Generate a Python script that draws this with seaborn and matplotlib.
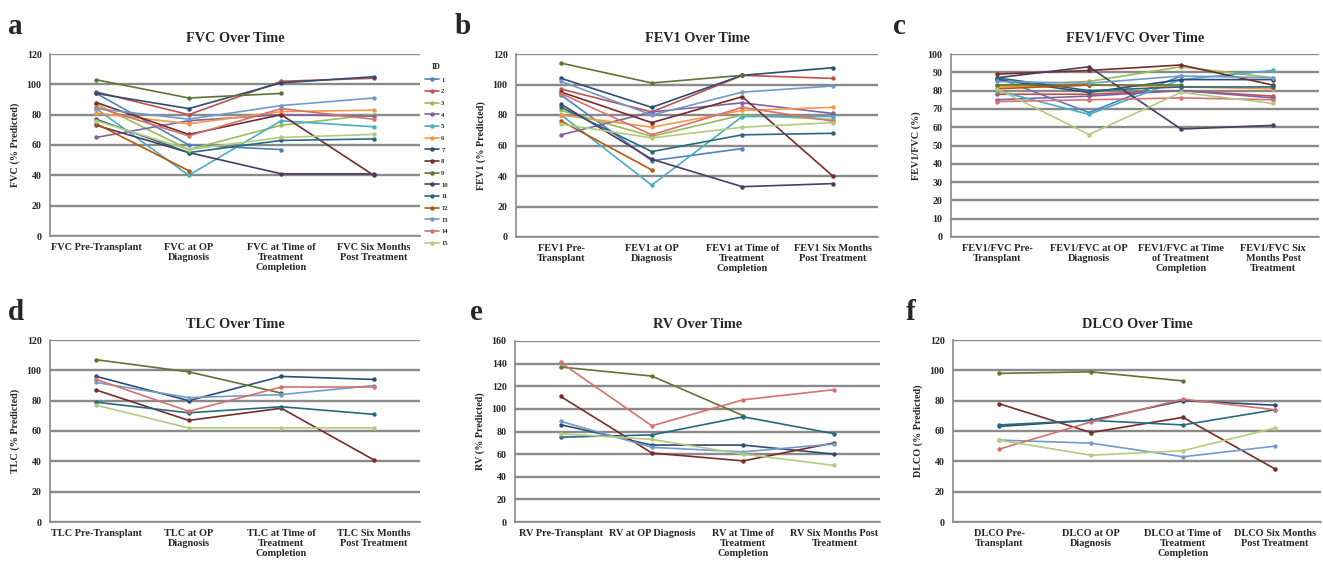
import numpy as np
import pandas as pd
import matplotlib.pyplot as plt
import seaborn as sns

sns.set_style("white")
plt.rcParams["font.family"] = ["Liberation Serif", "DejaVu Serif"]
plt.rcParams["font.weight"] = "bold"

# ---------------- data ----------------
ids = [str(i) for i in range(1, 16)]
colors = ["#4F81BD", "#C0504D", "#9BBB59", "#8064A2", "#4BACC6",
          "#F79646", "#2C4D75", "#772C2A", "#5F7530", "#4D3B62",
          "#276A7C", "#B65708", "#729ACA", "#D4726F", "#B3CB7F"]
nan = np.nan

# one row per patient ID 1..15, four time points
fvc = [[94, 60, 57, nan], [95, 80, 102, 104], [87, 57, 73, 80],
       [65, 76, 80, 79], [84, 40, 76, 72], [81, 74, 82, 83],
       [94, 84, 101, 105], [88, 67, 80, 40], [103, 91, 94, nan],
       [73, 55, 41, 41], [77, 55, 63, 64], [74, 43, nan, nan],
       [84, 77, 86, 91], [85, 66, 84, 77], [76, 57, 65, 67]]
fev1 = [[93, 50, 58, nan], [97, 82, 106, 104], [83, 66, 80, 77],
        [67, 82, 88, 81], [80, 34, 79, 79], [80, 72, 83, 85],
        [104, 85, 106, 111], [95, 75, 92, 40], [114, 101, 106, nan],
        [87, 51, 33, 35], [85, 56, 67, 68], [76, 44, nan, nan],
        [102, 80, 95, 99], [94, 67, 85, 76], [74, 65, 72, 75]]
ratio = [[87, 68, 88, nan], [78, 78, 80, 77], [83, 85, 93, 87],
         [75, 77, 80, 76], [80, 67, 86, 91], [82, 83, 82, 81],
         [86, 79, 86, 86], [89, 91, 94, 83], [83, 83, 83, nan],
         [87, 93, 59, 61], [87, 80, 82, 82], [81, 83, nan, nan],
         [85, 84, 88, 87], [74, 75, 76, 75], [81, 56, 79, 73]]

sub_ids = ["7", "8", "9", "11", "13", "14", "15"]
tlc = [[96, 80, 96, 94], [87, 67, 75, 41], [107, 99, 85, nan],
       [79, 72, 76, 71], [92, 82, 84, 90], [94, 73, 89, 89],
       [77, 62, 62, 62]]
rv = [[86, 68, 68, 60], [111, 61, 54, 70], [137, 129, 94, nan],
      [75, 77, 93, 78], [89, 66, 62, 69], [141, 85, 108, 117],
      [78, 73, 60, 50]]
dlco = [[63, 67, 80, 77], [78, 59, 69, 35], [98, 99, 93, nan],
        [64, 67, 64, 74], [54, 52, 43, 50], [48, 66, 81, 74],
        [54, 44, 47, 62]]

panels = [
    ("a", "FVC Over Time", "FVC (% Predicted)", ids, fvc, 120, 20,
     ["FVC Pre-Transplant", "FVC at OP\nDiagnosis",
      "FVC at Time of\nTreatment\nCompletion", "FVC Six Months\nPost Treatment"]),
    ("b", "FEV1 Over Time", "FEV1 (% Predicted)", ids, fev1, 120, 20,
     ["FEV1 Pre-\nTransplant", "FEV1 at OP\nDiagnosis",
      "FEV1 at Time of\nTreatment\nCompletion", "FEV1 Six Months\nPost Treatment"]),
    ("c", "FEV1/FVC Over Time", "FEV1/FVC (%)", ids, ratio, 100, 10,
     ["FEV1/FVC Pre-\nTransplant", "FEV1/FVC at OP\nDiagnosis",
      "FEV1/FVC at Time\nof Treatment\nCompletion", "FEV1/FVC Six\nMonths Post\nTreatment"]),
    ("d", "TLC Over Time", "TLC (% Predicted)", sub_ids, tlc, 120, 20,
     ["TLC Pre-Transplant", "TLC at OP\nDiagnosis",
      "TLC at Time of\nTreatment\nCompletion", "TLC Six Months\nPost Treatment"]),
    ("e", "RV Over Time", "RV (% Predicted)", sub_ids, rv, 160, 20,
     ["RV Pre-Transplant", "RV at OP Diagnosis",
      "RV at Time of\nTreatment\nCompletion", "RV Six Months Post\nTreatment"]),
    ("f", "DLCO Over Time", "DLCO (% Predicted)", sub_ids, dlco, 120, 20,
     ["DLCO Pre-\nTransplant", "DLCO at OP\nDiagnosis",
      "DLCO at Time of\nTreatment\nCompletion", "DLCO Six Months\nPost Treatment"]),
]

W, H = 1323, 562
# axes boxes in pixels: left, top, right, bottom
boxes = [(50, 54, 420, 236), (516, 54, 878, 237), (951, 54, 1319, 237),
         (50, 340, 420, 522), (515, 341, 880, 522), (953, 340, 1321, 522)]
letter_pos = [(8, 26), (455, 26), (893, 26), (8, 312), (470, 312), (906, 312)]

palette = dict(zip(ids, colors))

fig = plt.figure(figsize=(W / 100, H / 100), dpi=100)

for k, (letter, title, ylab, pid, vals, ymax, ystep, xlabels) in enumerate(panels):
    l, t, r, b = boxes[k]
    ax = fig.add_axes([l / W, 1 - b / H, (r - l) / W, (b - t) / H])

    rows = []
    for i, p in enumerate(pid):
        for j, v in enumerate(vals[i]):
            rows.append({"ID": p, "t": j, "val": v})
    df = pd.DataFrame(rows).dropna()

    sns.lineplot(data=df, x="t", y="val", hue="ID", hue_order=pid,
                 palette=palette, marker="o", markersize=3.2,
                 markeredgewidth=0, linewidth=1.2, ax=ax,
                 legend=(k == 0))

    ax.set_xlim(-0.5, 3.5)
    ax.set_ylim(0, ymax)
    ax.set_yticks(np.arange(0, ymax + 1, ystep))
    ax.yaxis.grid(True, color="#8a8a8a", linewidth=1.7)
    ax.set_axisbelow(True)
    for s in ["top", "right"]:
        ax.spines[s].set_visible(False)
    for s in ["left", "bottom"]:
        ax.spines[s].set_color("#8a8a8a")
        ax.spines[s].set_linewidth(1.2)

    ax.set_xticks(range(4))
    ax.set_xticklabels(xlabels, fontsize=7.4, fontweight="bold", linespacing=1.15)
    ax.set_xticks([0.5, 1.5, 2.5], minor=True)
    ax.tick_params(axis="x", which="major", length=0, pad=5)
    ax.tick_params(axis="x", which="minor", length=4, color="#8a8a8a", width=1)
    ax.tick_params(axis="y", length=0, labelsize=7.2, pad=6)
    for lab in ax.get_yticklabels():
        lab.set_fontweight("bold")

    ax.set_xlabel("")
    ax.set_ylabel(ylab, fontsize=7.3, fontweight="bold", labelpad=5)
    ax.set_title(title, fontsize=10.3, fontweight="bold", pad=9)

    fig.text(letter_pos[k][0] / W, 1 - letter_pos[k][1] / H, letter,
             fontsize=21, fontweight="bold", va="center", ha="left")

    if k == 0:
        ax.legend(title="ID", loc="upper left", bbox_to_anchor=(1.005, 0.965),
                  frameon=False, fontsize=4.8, title_fontsize=5.8,
                  handlelength=2.2, labelspacing=0.9, handletextpad=0.3,
                  borderaxespad=0)

plt.savefig("out.png", dpi=100)
